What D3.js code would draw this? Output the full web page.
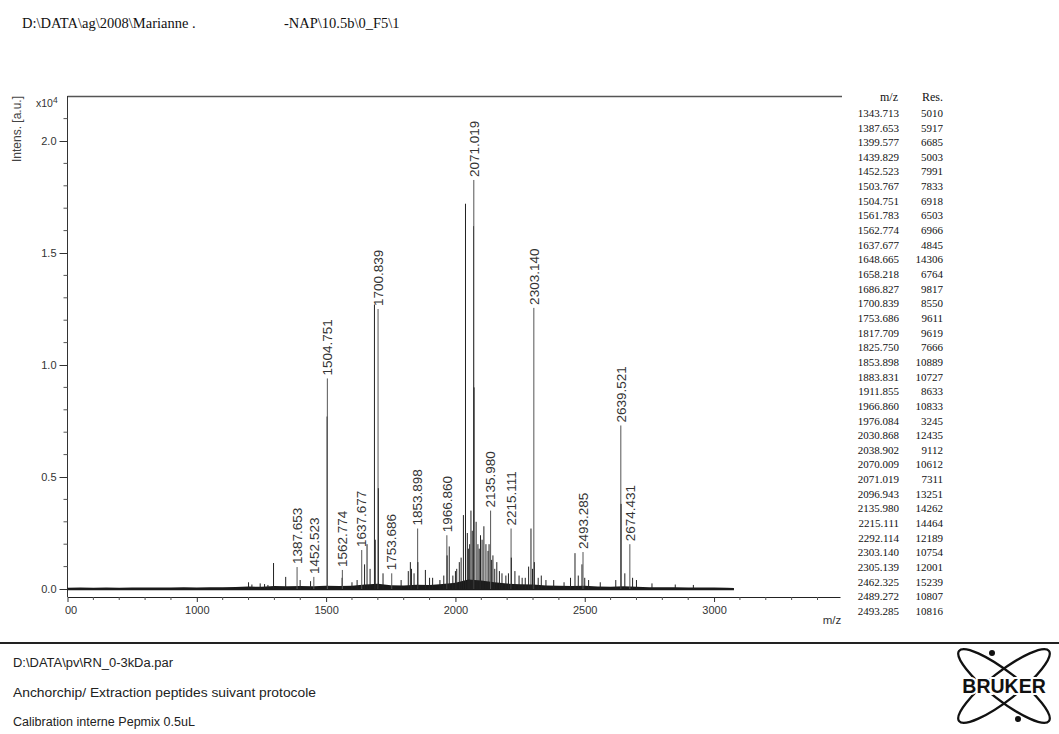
<!DOCTYPE html>
<html><head><meta charset="utf-8">
<script src="https://cdn.jsdelivr.net/npm/d3@7"></script>
<style>body{margin:0;background:#fff} svg{display:block}</style>
</head><body><svg id="c" width="1059" height="734"></svg>
<script>
// ---- data (intensities in a.u.) ----
const peakMz = [1200, 1213, 1245, 1262, 1275, 1296.685, 1343.713, 1387.653, 1399.577, 1439.829, 1452.523,
  1503.767, 1504.751, 1561.783, 1562.774, 1600, 1619.8, 1637.677, 1648.665, 1658.218, 1670, 1686.827, 1690,
  1700.839, 1701.84, 1720, 1753.686, 1790, 1817.709, 1825.750, 1830, 1840, 1853.898, 1854.9, 1883.831,
  1900, 1911.855, 1940, 1955, 1966.860, 1967.86, 1976.084, 1990, 2000, 2005, 2015, 2022, 2030.868,
  2038.902, 2046, 2050, 2055, 2060, 2065, 2070.009, 2071.019, 2072.02, 2080, 2087, 2092, 2096.943, 2103,
  2110, 2118, 2126, 2130, 2135.980, 2140, 2145, 2152, 2160, 2170, 2180, 2195, 2205, 2215.111, 2216.1,
  2230, 2246, 2258, 2270, 2283, 2292.114, 2298, 2303.140, 2305.139, 2320, 2332, 2350, 2380, 2420, 2445,
  2462.325, 2475, 2489.272, 2493.285, 2500, 2515, 2560, 2620, 2639.521, 2640.52, 2655, 2674.431, 2685,
  2700, 2760, 2850, 2920];
const peakInt = [300, 200, 250, 220, 180, 1160, 540, 980, 400, 350, 540,
  7700, 9400, 500, 850, 300, 400, 1740, 1100, 2000, 900, 12700, 2200,
  12500, 4500, 700, 700, 400, 800, 1200, 900, 700, 2700, 1200, 850,
  500, 500, 400, 600, 2400, 1500, 1900, 600, 800, 900, 1200, 1400, 3300,
  17200, 2500, 1800, 2000, 3500, 2600, 16200, 18260, 9000, 3000, 2000, 1800, 2400, 2200,
  2800, 2000, 1700, 2000, 3500, 1300, 1500, 900, 1200, 800, 700, 600, 700, 2700, 1400,
  800, 600, 500, 500, 1000, 2700, 900, 12550, 1200, 500, 600, 400, 400, 300, 500,
  1600, 600, 1100, 1650, 500, 400, 300, 400, 7300, 3800, 700, 2000, 500,
  400, 250, 200, 180];
const labelMz = [1387.653, 1452.523, 1504.751, 1562.774, 1637.677, 1700.839, 1753.686, 1853.898,
  1966.860, 2071.019, 2135.980, 2215.111, 2303.140, 2493.285, 2639.521, 2674.431];
const noiseMz = [500, 550, 600, 650, 700, 750, 800, 850, 900, 950, 1000, 1050, 1100, 1150, 1200, 1250,
  1300, 1350, 1400, 1450, 1500, 1550, 1600, 1650, 1700, 1750, 1800, 1850, 1900, 1950, 2000, 2050,
  2100, 2150, 2200, 2250, 2300, 2350, 2400, 2450, 2500, 2550, 2600, 2650, 2700, 2750, 2800, 2850,
  2900, 2950, 3000, 3050, 3077];
const noiseInt = [60, 70, 60, 70, 60, 70, 65, 70, 70, 75, 70, 80, 80, 90, 110, 100,
  130, 120, 130, 120, 140, 130, 150, 200, 230, 170, 160, 190, 180, 220, 280, 420,
  380, 300, 240, 210, 200, 160, 140, 130, 150, 110, 100, 120, 100, 80, 80, 75,
  70, 70, 65, 60, 50];
const tableMz = ["1343.713","1387.653","1399.577","1439.829","1452.523","1503.767","1504.751","1561.783",
  "1562.774","1637.677","1648.665","1658.218","1686.827","1700.839","1753.686","1817.709","1825.750",
  "1853.898","1883.831","1911.855","1966.860","1976.084","2030.868","2038.902","2070.009","2071.019",
  "2096.943","2135.980","2215.111","2292.114","2303.140","2305.139","2462.325","2489.272","2493.285"];
const tableRes = ["5010","5917","6685","5003","7991","7833","6918","6503","6966","4845","14306","6764",
  "9817","8550","9611","9619","7666","10889","10727","8633","10833","3245","12435","9112","10612",
  "7311","13251","14262","14464","12189","10754","12001","15239","10807","10816"];
const yTicks = [0, 5000, 10000, 15000, 20000];
const xTicks = [500, 1000, 1500, 2000, 2500, 3000];
const headerLeft = "D:\\DATA\\ag\\2008\\Marianne .";
const headerRight = "-NAP\\10.5b\\0_F5\\1";
const footerLines = ["D:\\DATA\\pv\\RN_0-3kDa.par",
  "Anchorchip/ Extraction peptides suivant protocole",
  "Calibration interne Pepmix 0.5uL"];

// ---- layout / style ----
const footerWidths = [160, 303, 182];
const svg = d3.select("#c");
svg.append("rect").attr("width", 1059).attr("height", 734).attr("fill", "#fff");
const sans = "'Liberation Sans', Arial, sans-serif";
const serif = "'Liberation Serif', 'Times New Roman', serif";

const x = d3.scaleLinear().domain([500, 3487]).range([67.5, 840]);
const y = d3.scaleLinear().domain([0, 22000]).range([589, 96.2]);
const axisY = 597;

// header
svg.append("text").attr("x", 22).attr("y", 28).attr("font-family", serif).attr("font-size", 14.5)
  .attr("fill", "#111").text(headerLeft);
svg.append("text").attr("x", 284).attr("y", 28).attr("font-family", serif).attr("font-size", 14.5)
  .attr("fill", "#111").text(headerRight);

// frame
svg.append("line").attr("x1", 67.5).attr("x2", 842).attr("y1", 96.5).attr("y2", 96.5)
  .attr("stroke", "#555").attr("stroke-width", 1.3);
svg.append("line").attr("x1", 67.5).attr("x2", 67.5).attr("y1", 96).attr("y2", axisY)
  .attr("stroke", "#333").attr("stroke-width", 1);

// y axis
const minorY = d3.range(1000, 22000, 1000).filter(v => v % 5000 !== 0);
const gy = svg.append("g").attr("transform", "translate(67.5,0)");
gy.call(d3.axisLeft(y).tickValues(yTicks).tickSize(8).tickSizeOuter(0)
  .tickFormat(d => (d / 1e4).toFixed(1)));
gy.select(".domain").remove();
gy.selectAll("text").attr("font-family", sans).attr("font-size", 11).attr("fill", "#333");
gy.selectAll(".tick line").attr("stroke", "#333");
gy.selectAll(".minor").data(minorY).enter().append("line").attr("class", "minor")
  .attr("x1", -4).attr("x2", 0).attr("y1", d => y(d)).attr("y2", d => y(d)).attr("stroke", "#555");

svg.append("text").attr("transform", "translate(21,129) rotate(-90)").attr("text-anchor", "middle")
  .attr("font-family", sans).attr("font-size", 12).attr("fill", "#444").text("Intens. [a.u.]");
const xt = svg.append("text").attr("x", 36).attr("y", 107).attr("font-family", sans)
  .attr("font-size", 10.5).attr("fill", "#333");
xt.append("tspan").text("x10");
xt.append("tspan").attr("dy", -4).attr("font-size", 8.5).text("4");

// x axis
svg.append("clipPath").attr("id", "xclip").append("rect").attr("x", 65).attr("y", -10)
  .attr("width", 800).attr("height", 50);
const gx = svg.append("g").attr("transform", `translate(0,${axisY})`).attr("clip-path", "url(#xclip)");
gx.call(d3.axisBottom(x).tickValues(xTicks).tickSize(5).tickSizeOuter(0).tickFormat(d3.format("d")));
gx.select(".domain").attr("stroke", "#222").attr("stroke-width", 1.2);
gx.selectAll("text").attr("font-family", sans).attr("font-size", 11).attr("fill", "#333").attr("dy", "0.85em");
gx.selectAll(".tick line").attr("stroke", "#333");
const minorX = d3.range(600, 3487, 100).filter(v => v % 500 !== 0);
gx.selectAll(".minor").data(minorX).enter().append("line").attr("class", "minor")
  .attr("x1", d => x(d)).attr("x2", d => x(d)).attr("y1", 0).attr("y2", 3).attr("stroke", "#555");
svg.append("text").attr("x", 832).attr("y", 624).attr("text-anchor", "middle").attr("font-family", sans)
  .attr("font-size", 11.5).attr("fill", "#333").text("m/z");

// spectrum: noise floor
const noise = noiseMz.map((m, i) => [m, noiseInt[i]]);
svg.append("path").datum(noise)
  .attr("d", d3.area().x(d => x(d[0])).y0(y(-60)).y1(d => y(d[1])))
  .attr("fill", "#1a1a1a");
// peaks
const peaks = peakMz.map((m, i) => ({ m, v: peakInt[i] }));
svg.append("g").selectAll("line").data(peaks).enter().append("line")
  .attr("x1", d => x(d.m)).attr("x2", d => x(d.m))
  .attr("y1", y(0)).attr("y2", d => y(d.v))
  .attr("stroke", d => labelMz.includes(d.m) ? "#555" : "#222").attr("stroke-width", 1);
// peak labels
const labelled = peaks.filter(p => labelMz.includes(p.m));
svg.append("g").selectAll("text").data(labelled).enter().append("text")
  .attr("transform", d => `translate(${x(d.m)},${y(d.v) - 3}) rotate(-90)`)
  .attr("dy", "0.35em").attr("font-family", sans).attr("font-size", 13.5).attr("fill", "#333")
  .text(d => d.m.toFixed(3));

// peak table
svg.append("text").attr("x", 898).attr("y", 101).attr("text-anchor", "end").attr("font-family", serif)
  .attr("font-size", 12).attr("fill", "#111").text("m/z");
svg.append("text").attr("x", 943).attr("y", 101).attr("text-anchor", "end").attr("font-family", serif)
  .attr("font-size", 12).attr("fill", "#111").text("Res.");
const rows = svg.append("g").selectAll("g").data(tableMz).enter().append("g")
  .attr("transform", (d, i) => `translate(0,${113 + i * 14.65})`);
rows.append("text").attr("x", 899).attr("dy", "0.35em").attr("text-anchor", "end").attr("font-family", serif)
  .attr("font-size", 11).attr("fill", "#111").text(d => d);
rows.append("text").attr("x", 943).attr("dy", "0.35em").attr("text-anchor", "end").attr("font-family", serif)
  .attr("font-size", 11).attr("fill", "#111").text((d, i) => tableRes[i]);

// separator rule
svg.append("line").attr("x1", 0).attr("x2", 1059).attr("y1", 643).attr("y2", 643)
  .attr("stroke", "#222").attr("stroke-width", 2);

// footer
footerLines.forEach((t, i) => {
  svg.append("text").attr("x", 13).attr("y", 667 + i * 29.5).attr("font-family", sans)
    .attr("font-size", 12.5).attr("fill", "#222")
    .attr("textLength", footerWidths[i]).attr("lengthAdjust", "spacingAndGlyphs").text(t);
});

// Bruker logo
const logo = svg.append("g").attr("transform", "translate(1004,686)");
[38, -38].forEach(a => logo.append("ellipse").attr("rx", 57).attr("ry", 14)
  .attr("transform", `rotate(${a})`).attr("fill", "none").attr("stroke", "#111").attr("stroke-width", 2.3));
logo.append("circle").attr("cx", -12).attr("cy", -33).attr("r", 3).attr("fill", "#111");
logo.append("circle").attr("cx", 14).attr("cy", 33).attr("r", 3).attr("fill", "#111");
logo.append("text").attr("text-anchor", "middle").attr("dy", "0.36em").attr("font-family", sans)
  .attr("font-weight", "bold").attr("font-size", 19.5).attr("fill", "#111")
  .attr("stroke", "#fff").attr("stroke-width", 4).attr("paint-order", "stroke").text("BRUKER");
</script></body></html>
